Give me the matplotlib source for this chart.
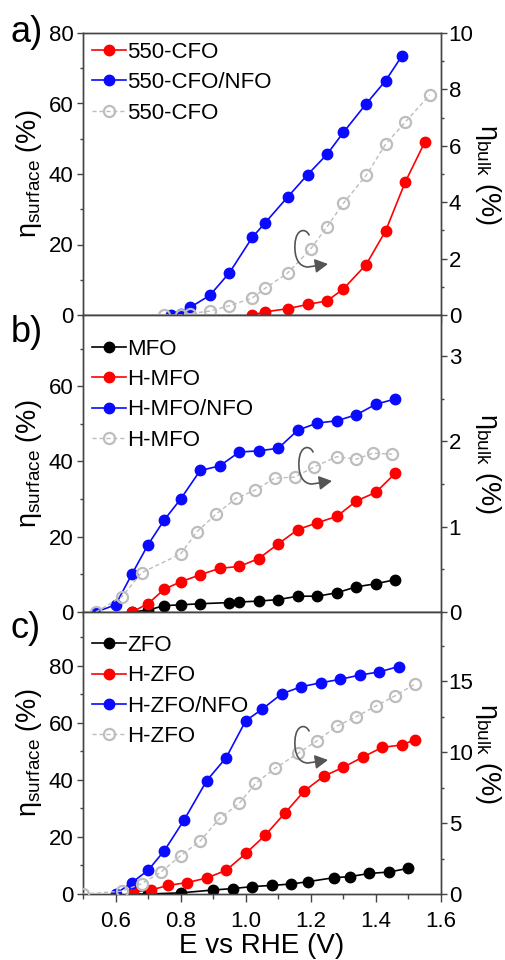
import matplotlib
matplotlib.use("Agg")
import matplotlib.pyplot as plt
from matplotlib.path import Path
from matplotlib.patches import FancyArrowPatch
from matplotlib.ticker import MultipleLocator

plt.rcParams['font.family'] = ['Liberation Sans', 'DejaVu Sans']
plt.rcParams['mathtext.fontset'] = 'custom'
plt.rcParams['mathtext.rm'] = 'Liberation Sans'
plt.rcParams['mathtext.it'] = 'Liberation Sans'

# ---------------- data ----------------
# panel a
a_red_x = [1.02, 1.06, 1.13, 1.19, 1.25, 1.30, 1.37, 1.43, 1.49, 1.55]
a_red_y = [0, 0.9, 1.8, 3.0, 4.0, 7.4, 14.3, 23.9, 37.7, 49.0]
a_blue_x = [0.77, 0.80, 0.83, 0.89, 0.95, 1.02, 1.06, 1.13, 1.19, 1.25, 1.30, 1.37, 1.43, 1.48]
a_blue_y = [0, 0.4, 2.2, 5.6, 12.0, 22.0, 26.2, 33.6, 39.8, 45.6, 51.8, 59.9, 66.5, 73.5]
a_gray_x = [0.75, 0.80, 0.83, 0.89, 0.95, 1.02, 1.06, 1.13, 1.20, 1.25, 1.30, 1.37, 1.43, 1.49, 1.565]
a_gray_y = [0, 0, 0.05, 0.14, 0.33, 0.60, 0.95, 1.50, 2.35, 3.13, 3.96, 4.95, 6.06, 6.84, 7.80]
a_labels = ["550-CFO", "550-CFO/NFO", "550-CFO"]

# panel b
b_black_x = [0.65, 0.70, 0.75, 0.80, 0.86, 0.95, 0.98, 1.04, 1.10, 1.16, 1.22, 1.28, 1.34, 1.40, 1.46]
b_black_y = [0, 0.5, 1.7, 1.9, 2.2, 2.5, 2.65, 2.9, 3.3, 4.2, 4.2, 5.1, 6.7, 7.5, 8.6]
b_red_x = [0.65, 0.70, 0.75, 0.80, 0.86, 0.92, 0.98, 1.04, 1.10, 1.16, 1.22, 1.28, 1.34, 1.40, 1.46]
b_red_y = [0, 2.2, 6.1, 8.0, 9.9, 11.6, 12.1, 14.2, 18.1, 21.9, 23.7, 25.4, 29.5, 31.8, 36.9]
b_blue_x = [0.54, 0.60, 0.65, 0.70, 0.75, 0.80, 0.86, 0.92, 0.98, 1.04, 1.10, 1.16, 1.22, 1.28, 1.34, 1.40, 1.46]
b_blue_y = [0, 1.9, 10.0, 17.9, 24.5, 30.0, 37.6, 38.8, 42.5, 42.8, 43.5, 48.3, 50.2, 50.8, 52.4, 55.2, 56.6]
b_gray_x = [0.54, 0.62, 0.68, 0.80, 0.85, 0.91, 0.97, 1.03, 1.09, 1.15, 1.21, 1.28, 1.34, 1.39, 1.45]
b_gray_y = [0, 0.18, 0.46, 0.68, 0.94, 1.15, 1.33, 1.43, 1.57, 1.58, 1.70, 1.82, 1.79, 1.86, 1.85]
b_labels = ["MFO", "H-MFO", "H-MFO/NFO", "H-MFO"]

# panel c
c_black_x = [0.65, 0.70, 0.80, 0.90, 0.96, 1.02, 1.08, 1.14, 1.19, 1.27, 1.32, 1.38, 1.44, 1.50]
c_black_y = [0, 0, 0.4, 1.4, 1.9, 2.6, 3.0, 3.5, 4.3, 5.7, 6.1, 7.2, 7.7, 9.0]
c_red_x = [0.655, 0.71, 0.76, 0.82, 0.88, 0.94, 1.00, 1.06, 1.12, 1.18, 1.24, 1.30, 1.36, 1.42, 1.48, 1.52]
c_red_y = [0.8, 1.4, 3.0, 4.0, 5.6, 8.3, 14.2, 20.6, 28.3, 36.1, 41.3, 44.4, 48.0, 51.4, 52.2, 54.1]
c_blue_x = [0.60, 0.65, 0.70, 0.75, 0.81, 0.88, 0.94, 1.00, 1.05, 1.11, 1.17, 1.23, 1.29, 1.35, 1.41, 1.47]
c_blue_y = [0, 4.0, 8.3, 15.2, 25.8, 39.7, 47.8, 60.7, 64.7, 70.1, 72.6, 74.0, 75.2, 76.7, 77.8, 79.7]
c_gray_x = [0.50, 0.62, 0.68, 0.74, 0.80, 0.86, 0.92, 0.98, 1.03, 1.09, 1.16, 1.22, 1.28, 1.34, 1.40, 1.46, 1.52]
c_gray_y = [0, 0.2, 0.72, 1.55, 2.70, 3.73, 5.33, 6.38, 7.79, 8.85, 9.9, 10.8, 11.83, 12.49, 13.24, 13.97, 14.79]
c_labels = ["ZFO", "H-ZFO", "H-ZFO/NFO", "H-ZFO"]

x_ticks = [0.6, 0.8, 1.0, 1.2, 1.4, 1.6]

# ---------------- style ----------------
W, H = 506, 960
fig = plt.figure(figsize=(W / 100, H / 100), dpi=100)

RED = '#ff0000'
BLUE = '#0a0aff'
BLACK = '#000000'
GRAY = '#bdbdbd'
SPINE = '#444444'
TICKFS = 16
LABFS = 19.5
LEGFS = 16

def px_axes(top, bottom):
    return fig.add_axes([83 / W, 1 - bottom / H, (441 - 83) / W, (bottom - top) / H])

def solid(ax, x, y, c, label):
    return ax.plot(x, y, '-', color=c, lw=1.2, marker='o', ms=7.5, mec=c, mfc=c, label=label, zorder=3)[0]

def open_gray(ax, x, y, label):
    return ax.plot(x, y, '--', color=GRAY, lw=1.0, dashes=(3, 2), marker='o', ms=8,
                   mfc='none', mec=GRAY, mew=1.6, label=label, zorder=3)[0]

def style(ax, ax2, ylim, ymaj, ymin, ylim2, ymaj2, ymin2, xlabels):
    ax.set_xlim(0.5, 1.6)
    ax.set_ylim(*ylim)
    ax2.set_ylim(*ylim2)
    ax.xaxis.set_minor_locator(MultipleLocator(0.1))
    ax.set_xticks(x_ticks)
    ax.yaxis.set_major_locator(MultipleLocator(ymaj))
    ax.yaxis.set_minor_locator(MultipleLocator(ymin))
    ax2.yaxis.set_major_locator(MultipleLocator(ymaj2))
    ax2.yaxis.set_minor_locator(MultipleLocator(ymin2))
    for a in (ax, ax2):
        for s in a.spines.values():
            s.set_color(SPINE)
            s.set_linewidth(1.0)
    ax.tick_params(axis='x', which='major', direction='out', length=6, width=1, color=SPINE,
                   labelsize=TICKFS, pad=6, labelbottom=xlabels)
    ax.tick_params(axis='x', which='minor', direction='out', length=3.5, width=1, color=SPINE)
    ax.tick_params(axis='y', which='major', direction='out', length=4, width=1, color=SPINE,
                   labelsize=TICKFS, pad=3)
    ax.tick_params(axis='y', which='minor', direction='out', length=2.5, width=1, color=SPINE)
    ax2.tick_params(axis='y', which='major', direction='out', length=4, width=1, color=SPINE,
                    labelsize=TICKFS, pad=1.5)
    ax2.tick_params(axis='y', which='minor', direction='out', length=2.5, width=1, color=SPINE)
    ax.set_ylabel('η$_{\\mathrm{surface}}$ (%)', fontsize=LABFS)
    ax2.set_ylabel('η$_{\\mathrm{bulk}}$ (%)', fontsize=LABFS, rotation=270)

def legend(ax2, handles, labels, y_anchor):
    ax2.legend(handles, labels, loc='upper left', bbox_to_anchor=(0.0, y_anchor),
               frameon=False, fontsize=LEGFS, handlelength=1.55, handletextpad=0.05,
               labelspacing=0.42, borderaxespad=0.2, borderpad=0.2)

def loop_arrow(x0, y0):
    rel = [(0, 0), (-3, -7), (-13, -7), (-14, 9), (-15, 23), (-10, 32), (-1, 32), (19, 29)]
    verts = [((x0 + dx) / W, 1 - (y0 + dy) / H) for dx, dy in rel]
    codes = [Path.MOVETO] + [Path.CURVE4] * 6 + [Path.LINETO]
    arr = FancyArrowPatch(path=Path(verts, codes), arrowstyle='-|>,head_length=0.55,head_width=0.3',
                          mutation_scale=14, color='#555555', lw=1.2, transform=fig.transFigure)
    fig.add_artist(arr)

# ---------------- panel a ----------------
axa = px_axes(33, 315)
axa2 = axa.twinx()
h1 = solid(axa, a_red_x, a_red_y, RED, a_labels[0])
h2 = solid(axa, a_blue_x, a_blue_y, BLUE, a_labels[1])
h3 = open_gray(axa2, a_gray_x, a_gray_y, a_labels[2])
style(axa, axa2, (0, 80), 20, 10, (0, 10), 2, 1, False)
legend(axa2, [h1, h2, h3], a_labels, 1.0)
loop_arrow(309, 235)

# ---------------- panel b ----------------
axb = px_axes(315, 612)
axb2 = axb.twinx()
k1 = solid(axb, b_black_x, b_black_y, BLACK, b_labels[0])
k2 = solid(axb, b_red_x, b_red_y, RED, b_labels[1])
k3 = solid(axb, b_blue_x, b_blue_y, BLUE, b_labels[2])
k4 = open_gray(axb2, b_gray_x, b_gray_y, b_labels[3])
style(axb, axb2, (0, 78.9), 20, 10, (0, 3.48), 1, 0.5, False)
legend(axb2, [k1, k2, k3, k4], b_labels, 0.95)
loop_arrow(313, 452)

# ---------------- panel c ----------------
axc = px_axes(612, 894)
axc2 = axc.twinx()
m1 = solid(axc, c_black_x, c_black_y, BLACK, c_labels[0])
m2 = solid(axc, c_red_x, c_red_y, RED, c_labels[1])
m3 = solid(axc, c_blue_x, c_blue_y, BLUE, c_labels[2])
m4 = open_gray(axc2, c_gray_x, c_gray_y, c_labels[3])
style(axc, axc2, (0, 98.8), 20, 10, (0, 19.86), 5, 2.5, True)
legend(axc2, [m1, m2, m3, m4], c_labels, 0.95)
loop_arrow(309, 731)
axc.set_xlabel('E vs RHE (V)', fontsize=LABFS + 0.5, labelpad=1)

# panel letters
for lab, y in [('a)', 32), ('b)', 333), ('c)', 629)]:
    fig.text(11 / W, 1 - y / H, lab, fontsize=26, ha='left', va='center')

# align y labels
for ax in (axa, axb, axc):
    ax.yaxis.set_label_coords(-0.11, 0.5)
for ax in (axa2, axb2, axc2):
    ax.yaxis.set_label_coords(1.172, 0.5)

fig.savefig('out.png', dpi=100)
